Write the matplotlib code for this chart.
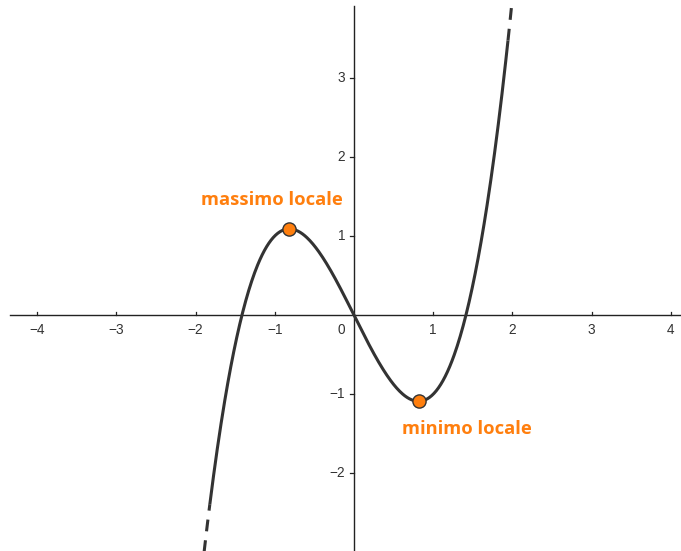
import numpy as np
import matplotlib.pyplot as plt

plt.rcParams['lines.scale_dashes'] = False

# f(x) = x^3 - 2x
coeffs = [1, 0, -2, 0]
solid_range = [-1.82, 1.945]
max_pt = (-0.816, 1.089)
min_pt = (0.816, -1.089)
x_ticks = [-4, -3, -2, -1, 1, 2, 3, 4]
y_ticks = [-2, -1, 1, 2, 3]
orange = '#FF7F0E'
curve_col = '#333333'

fig = plt.figure(figsize=(6.81, 5.51), dpi=100)
ax = fig.add_axes([0, 0, 1, 1])
ax.set_xlim(-4.47, 4.13)
ax.set_ylim(-2.98, 3.98)
ax.axis('off')

# axes lines
ax.plot([-4.35, 4.12], [0, 0], color='#222222', lw=1.0, zorder=1)
ax.plot([0, 0], [-2.98, 3.9], color='#222222', lw=1.0, zorder=1)

tick_font = dict(family='Liberation Sans', size=9.8, color='#333333')
for t in x_ticks:
    ax.plot([t, t], [0, 0.035], color='#222222', lw=0.9, zorder=1)
    lbl = str(t).replace('-', '\u2212')
    ax.text(t, -0.19, lbl, ha='center', va='center', **tick_font)
for t in y_ticks:
    ax.plot([-0.045, 0], [t, t], color='#222222', lw=0.9, zorder=1)
    lbl = str(t).replace('-', '\u2212')
    ax.text(-0.11, t, lbl, ha='right', va='center', **tick_font)
ax.text(-0.11, -0.19, '0', ha='right', va='center', **tick_font)

# curve: solid part and dashed continuations
xs = np.linspace(solid_range[0], solid_range[1], 400)
ax.plot(xs, np.polyval(coeffs, xs), color=curve_col, lw=2.2, zorder=2,
        solid_capstyle='butt')
xl = np.linspace(-2.2, solid_range[0], 60)
ax.plot(xl, np.polyval(coeffs, xl), color=curve_col, lw=2.2, zorder=2,
        linestyle=(0, (8.5, 6.5)), dash_capstyle='butt')
xr = np.linspace(solid_range[1], 2.2, 60)
ax.plot(xr, np.polyval(coeffs, xr), color=curve_col, lw=2.2, zorder=2,
        linestyle=(0, (8.5, 6.5)), dash_capstyle='butt')

# extrema
ax.plot([max_pt[0], min_pt[0]], [max_pt[1], min_pt[1]], 'o', ms=9.5,
        mfc=orange, mec='#333333', mew=1.0, zorder=3)

lab_font = dict(family='Open Sans', weight='bold', size=13.2, color=orange)
ax.text(-1.035, 1.45, 'massimo locale', ha='center', va='center', **lab_font)
ax.text(1.43, -1.445, 'minimo locale', ha='center', va='center', **lab_font)

fig.savefig('out.png', dpi=100)
